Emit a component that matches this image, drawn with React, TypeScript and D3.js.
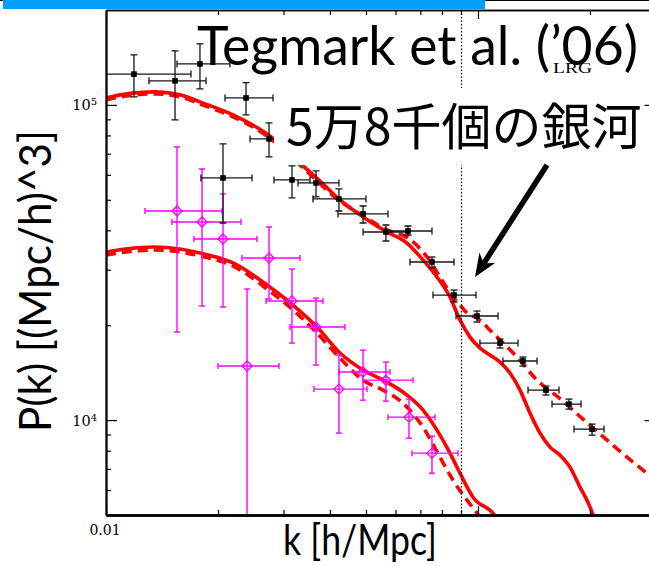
import React, { useEffect, useRef } from "react";
import * as d3 from "d3";

const W = 649;
const H = 566;

// SDSS LRG band powers: k [h/Mpc], P(k), horizontal and vertical error limits
const lrgK = [0.01189, 0.01533, 0.01789, 0.02379, 0.02743, 0.02063, 0.03162, 0.03669, 0.04229, 0.04909, 0.05656, 0.06483, 0.07521, 0.0862, 0.09938, 0.1146, 0.1321, 0.1523, 0.1756, 0.2026];
const lrgP = [125200, 119200, 134900, 105200, 77980, 58640, 57790, 56540, 50300, 45080, 39520, 39810, 31740, 24930, 21390, 17560, 15400, 12450, 11240, 9363];
const lrgKLo = [0.01, 0.01305, 0.01552, 0.02089, 0.02439, 0.018, 0.02829, 0.03282, 0.03601, 0.04204, 0.04909, 0.05656, 0.06565, 0.07568, 0.08728, 0.1012, 0.1167, 0.1363, 0.1581, 0.1812];
const lrgKHi = [0.01692, 0.01857, 0.02154, 0.02812, 0.031, 0.02469, 0.03535, 0.04229, 0.04999, 0.05727, 0.06483, 0.07521, 0.0862, 0.09877, 0.1132, 0.1281, 0.1441, 0.1651, 0.1892, 0.2182];
const lrgPLo = [106000, 89600, 112400, 92960, 68390, 42200, 50670, 51040, 46070, 42200, 37000, 38660, 30380, 23690, 20470, 16930, 14840, 12010, 10840, 8960];
const lrgPHi = [144100, 148400, 156200, 117700, 87670, 75180, 64020, 61720, 54120, 47780, 41590, 41290, 32920, 25870, 22180, 18080, 15850, 12820, 11660, 9712];

// Second galaxy sample (open diamonds)
const galK = [0.01552, 0.01812, 0.02063, 0.02743, 0.02394, 0.03162, 0.03669, 0.04229, 0.04909, 0.05656, 0.06524, 0.07521];
const galP = [46070, 42510, 37550, 32680, 14840, 23860, 19740, 12540, 14210, 13390, 10220, 7857];
const galKLo = [0.01273, 0.01504, 0.01724, 0.02321, 0.02, 0.02692, 0.03123, 0.03624, 0.04229, 0.04909, 0.05727, 0.06646];
const galKHi = [0.0205, 0.02307, 0.02546, 0.03323, 0.02918, 0.03831, 0.04389, 0.0503, 0.058, 0.06688, 0.07662, 0.08836];
const galPLo = [19030, 23010, 22840, 24210, 3000, 17560, 14950, 9093, 11570, 11490, 8767, 6786];
const galPHi = [73560, 62620, 52190, 41000, 26050, 30160, 24390, 16080, 16680, 15280, 11660, 8896];

// Model spectra (solid: nonlinear with BAO, dashed: alternative model)
const upperSolidK = [0.01, 0.0116, 0.01354, 0.0158, 0.01789, 0.02195, 0.02709, 0.03028, 0.03365, 0.03761, 0.04256, 0.04909, 0.05692, 0.06443, 0.07115, 0.07757, 0.08408, 0.08946, 0.09517, 0.1012, 0.1077, 0.1146, 0.1219, 0.1297, 0.138, 0.1468, 0.1562, 0.1661, 0.1767, 0.188, 0.1963, 0.2038, 0.2128];
const upperSolidP = [105200, 108800, 110000, 107600, 102200, 92960, 80910, 73040, 64500, 57370, 49930, 44100, 39520, 36460, 32210, 28440, 24580, 20770, 18340, 16930, 16080, 15280, 14100, 12450, 10520, 9093, 8209, 7743, 7093, 6127, 5572, 5000, 4159];
const upperDashK = [0.01, 0.0116, 0.01354, 0.0158, 0.01789, 0.02195, 0.02709, 0.03365, 0.04256, 0.04909, 0.05692, 0.06483, 0.07294, 0.07903, 0.08566, 0.08946, 0.09342, 0.09938, 0.1097, 0.1273, 0.1441, 0.1661, 0.1915, 0.2223, 0.2515, 0.2883, 0.3282];
const upperDashP = [103700, 107200, 108400, 106000, 100700, 91600, 79700, 63540, 49560, 44430, 40110, 37830, 32920, 28440, 24580, 23180, 21860, 21080, 18880, 15850, 13390, 11700, 10070, 8638, 7628, 6689, 5864];
const lowerSolidK = [0.01, 0.0116, 0.01338, 0.0158, 0.01789, 0.02195, 0.02709, 0.03182, 0.03691, 0.04256, 0.04909, 0.05692, 0.06443, 0.07115, 0.07757, 0.08408, 0.08946, 0.09696, 0.1097, 0.1182];
const lowerSolidP = [34150, 35030, 35420, 34910, 33910, 31510, 26830, 23180, 19740, 16320, 14410, 13200, 12010, 10760, 9296, 7857, 6786, 5696, 5070, 4477];
const lowerDashK = [0.01, 0.0116, 0.01338, 0.0158, 0.01789, 0.02195, 0.02709, 0.03182, 0.03691, 0.04256, 0.04909, 0.05553, 0.06285, 0.07115, 0.07903, 0.08566, 0.09342, 0.09938, 0.1044];
const lowerDashP = [33420, 34270, 34650, 34150, 33180, 30830, 26050, 22350, 18880, 15730, 13390, 12450, 11320, 9501, 7628, 6450, 5572, 5070, 4642];

// Axes
const kDomain = [0.01, 0.3];
const pDomain = [5000, 200000];
const kMajorTicks = [0.01, 0.1];
const kMinorTicks = [0.02, 0.03, 0.04, 0.05, 0.06, 0.07, 0.08, 0.09, 0.2, 0.3];
const pMajorTicks = [10000, 100000];
const pMinorTicks = [6000, 7000, 8000, 9000, 20000, 30000, 40000, 50000, 60000, 70000, 80000, 90000];
const kTickLabels = [{ v: 0.01, t: "0.01" }];
const pTickLabels = [{ v: 100000, base: "10", exp: "5" }, { v: 10000, base: "10", exp: "4" }];
const kScaleMark = 0.09;

const titleText = "Tegmark et al. (\u201906)";
const subText = "LRG";
const noteText = "5万8千個の銀河";
const xLabel = "k [h/Mpc]";
const yLabel = "P(k) [(Mpc/h)^3]";

const RED = "#ff0000";
const MAGENTA = "#ff00ff";

export default function App() {
  const ref = useRef<SVGSVGElement>(null);

  useEffect(() => {
    const svg = d3.select(ref.current);
    svg.selectAll("*").remove();

    const left = 106, bottom = 515, top = 10;
    const right = left + 372 * Math.log10(kDomain[1] / kDomain[0]);
    const x = d3.scaleLog().domain(kDomain).range([left, right]);
    const y = d3.scaleLog().domain(pDomain).range([bottom, top]);

    svg.append("rect").attr("width", W).attr("height", H).attr("fill", "#fff");

    // slide header strip
    svg.append("line").attr("x1", 0).attr("x2", W).attr("y1", 0.5).attr("y2", 0.5)
      .attr("stroke", "#000").attr("stroke-width", 1);
    svg.append("rect").attr("x", 3).attr("y", 0).attr("width", 482).attr("height", 9).attr("fill", "#00a0fa");

    // clipping for the plot region
    svg.append("defs").append("clipPath").attr("id", "plotClip")
      .append("rect").attr("x", left).attr("y", top).attr("width", right - left).attr("height", bottom - top);

    const plot = svg.append("g").attr("clip-path", "url(#plotClip)");

    // model curves
    const line = d3.line<[number, number]>()
      .x((d) => x(d[0]))
      .y((d) => y(d[1]))
      .curve(d3.curveMonotoneX);
    const curves = [
      { k: upperSolidK, p: upperSolidP, dash: null },
      { k: upperDashK, p: upperDashP, dash: "10,6" },
      { k: lowerSolidK, p: lowerSolidP, dash: null },
      { k: lowerDashK, p: lowerDashP, dash: "10,6" },
    ];
    curves.forEach((c) => {
      const pts = c.k.map((k, i) => [k, c.p[i]] as [number, number]);
      plot.append("path").attr("d", line(pts)).attr("fill", "none")
        .attr("stroke", RED).attr("stroke-width", 3.6)
        .attr("stroke-dasharray", c.dash);
    });

    // error bars
    const drawBars = (
      g: any, ks: number[], ps: number[], kLo: number[], kHi: number[], pLo: number[], pHi: number[],
      color: string, w: number, cap: number
    ) => {
      ks.forEach((k, i) => {
        const cx = x(k), cy = y(ps[i]);
        const x0 = x(kLo[i]), x1 = x(kHi[i]);
        const y0 = y(pLo[i]), y1 = y(pHi[i]);
        const s = (sel: any) => sel.attr("stroke", color).attr("stroke-width", w);
        s(g.append("line").attr("x1", x0).attr("x2", x1).attr("y1", cy).attr("y2", cy));
        s(g.append("line").attr("x1", x0).attr("x2", x0).attr("y1", cy - cap).attr("y2", cy + cap));
        s(g.append("line").attr("x1", x1).attr("x2", x1).attr("y1", cy - cap).attr("y2", cy + cap));
        s(g.append("line").attr("x1", cx).attr("x2", cx).attr("y1", y0).attr("y2", y1));
        s(g.append("line").attr("x1", cx - cap).attr("x2", cx + cap).attr("y1", y0).attr("y2", y0));
        s(g.append("line").attr("x1", cx - cap).attr("x2", cx + cap).attr("y1", y1).attr("y2", y1));
      });
    };

    const galG = plot.append("g");
    drawBars(galG, galK, galP, galKLo, galKHi, galPLo, galPHi, MAGENTA, 1.4, 3);
    galK.forEach((k, i) => {
      const cx = x(k), cy = y(galP[i]), r = 5;
      galG.append("path")
        .attr("d", `M${cx},${cy - r}L${cx + r},${cy}L${cx},${cy + r}L${cx - r},${cy}Z`)
        .attr("fill", "none").attr("stroke", MAGENTA).attr("stroke-width", 1.4);
    });

    const lrgG = plot.append("g");
    drawBars(lrgG, lrgK, lrgP, lrgKLo, lrgKHi, lrgPLo, lrgPHi, "#151515", 1.3, 3.5);
    lrgG.selectAll("rect.pt").data(lrgK).join("rect").attr("class", "pt")
      .attr("x", (d: number) => x(d) - 2.8)
      .attr("y", (_d: number, i: number) => y(lrgP[i]) - 2.8)
      .attr("width", 5.6).attr("height", 5.6).attr("fill", "#000");

    // scale marker
    svg.append("line").attr("x1", Math.round(x(kScaleMark)) + 0.5).attr("x2", Math.round(x(kScaleMark)) + 0.5)
      .attr("y1", top).attr("y2", bottom).attr("stroke", "#000").attr("stroke-width", 1.2)
      .attr("stroke-dasharray", "1.5,2");

    // axes and frame
    const styleAxis = (g: any, sw: number) => {
      g.selectAll("text").remove();
      g.select(".domain").attr("stroke", "#000").attr("stroke-width", sw);
      g.selectAll(".tick line").attr("stroke", "#000").attr("stroke-width", 1.2);
    };
    const noLabel = () => "";
    const gB = svg.append("g").attr("transform", `translate(0,${bottom})`);
    gB.call(d3.axisBottom(x).tickValues(kMinorTicks).tickSize(-5).tickSizeOuter(0).tickFormat(noLabel));
    styleAxis(gB, 2.4);
    const gB2 = svg.append("g").attr("transform", `translate(0,${bottom})`);
    gB2.call(d3.axisBottom(x).tickValues(kMajorTicks).tickSize(-9).tickSizeOuter(0).tickFormat(noLabel));
    styleAxis(gB2, 2.4);

    const gT = svg.append("g").attr("transform", `translate(0,${top})`);
    gT.call(d3.axisTop(x).tickValues(kMinorTicks).tickSize(-5).tickSizeOuter(0).tickFormat(noLabel));
    styleAxis(gT, 1.6);
    const gT2 = svg.append("g").attr("transform", `translate(0,${top})`);
    gT2.call(d3.axisTop(x).tickValues(kMajorTicks).tickSize(-9).tickSizeOuter(0).tickFormat(noLabel));
    styleAxis(gT2, 1.6);

    const gL = svg.append("g").attr("transform", `translate(${left},0)`);
    gL.call(d3.axisLeft(y).tickValues(pMinorTicks).tickSize(-5).tickSizeOuter(0).tickFormat(noLabel));
    styleAxis(gL, 1.8);
    const gL2 = svg.append("g").attr("transform", `translate(${left},0)`);
    gL2.call(d3.axisLeft(y).tickValues(pMajorTicks).tickSize(-11).tickSizeOuter(0).tickFormat(noLabel));
    styleAxis(gL2, 1.8);

    const gR = svg.append("g").attr("transform", `translate(${right},0)`);
    gR.call(d3.axisRight(y).tickValues(pMinorTicks).tickSize(-5).tickSizeOuter(0).tickFormat(noLabel));
    styleAxis(gR, 1.8);
    const gR2 = svg.append("g").attr("transform", `translate(${right},0)`);
    gR2.call(d3.axisRight(y).tickValues(pMajorTicks).tickSize(-11).tickSizeOuter(0).tickFormat(noLabel));
    styleAxis(gR2, 1.8);

    // tick labels
    const serif = "'DejaVu Serif', serif";
    kTickLabels.forEach((t) => {
      svg.append("text").attr("x", x(t.v) - 1).attr("y", 535).attr("text-anchor", "middle")
        .attr("font-family", serif).attr("font-size", 14).attr("fill", "#000").text(t.t);
    });
    pTickLabels.forEach((t) => {
      const tx = svg.append("text").attr("x", left - 9).attr("y", y(t.v) + 5.5)
        .attr("text-anchor", "end").attr("font-family", serif).attr("font-size", 14.5).attr("fill", "#000");
      tx.append("tspan").text(t.base);
      tx.append("tspan").attr("dy", -5).attr("font-size", 10).text(t.exp);
    });

    // annotation box and text
    svg.append("rect").attr("x", 274).attr("y", 88).attr("width", 366).attr("height", 77).attr("fill", "#fff");
    svg.append("text").attr("x", 286).attr("y", 145)
      .attr("font-family", "'Noto Sans CJK JP', sans-serif").attr("font-size", 50).attr("fill", "#000")
      .text(noteText);

    const sans = "Lato, 'Open Sans', sans-serif";
    svg.append("text").attr("x", 197).attr("y", 65)
      .attr("font-family", sans).attr("font-size", 55).attr("fill", "#000")
      .attr("textLength", 441).attr("lengthAdjust", "spacingAndGlyphs")
      .text(titleText);
    svg.append("text").attr("x", 553).attr("y", 73)
      .attr("font-family", "'Liberation Serif', serif").attr("font-size", 15).attr("fill", "#000")
      .attr("textLength", 39).attr("lengthAdjust", "spacingAndGlyphs")
      .text(subText);

    // arrow
    const ax0 = 547, ay0 = 165, ax1 = 475, ay1 = 277;
    const len = Math.hypot(ax1 - ax0, ay1 - ay0);
    const ux = (ax1 - ax0) / len, uy = (ay1 - ay0) / len;
    const nx = -uy, ny = ux;
    const hl = 23, hw = 9.5;
    svg.append("line").attr("x1", ax0).attr("y1", ay0)
      .attr("x2", ax1 - ux * 14).attr("y2", ay1 - uy * 14)
      .attr("stroke", "#000").attr("stroke-width", 5.5);
    svg.append("path")
      .attr("d", `M${ax1},${ay1}L${ax1 - ux * hl + nx * hw},${ay1 - uy * hl + ny * hw}L${ax1 - ux * 16},${ay1 - uy * 16}L${ax1 - ux * hl - nx * hw},${ay1 - uy * hl - ny * hw}Z`)
      .attr("fill", "#000");

    // axis titles
    svg.append("text").attr("x", 283).attr("y", 555)
      .attr("font-family", sans).attr("font-size", 42).attr("fill", "#000")
      .attr("textLength", 154).attr("lengthAdjust", "spacingAndGlyphs")
      .text(xLabel);
    svg.append("text").attr("transform", "translate(51,432) rotate(-90)")
      .attr("font-family", sans).attr("font-size", 44).attr("fill", "#000")
      .attr("textLength", 302).attr("lengthAdjust", "spacingAndGlyphs")
      .text(yLabel);
  }, []);

  return (
    <svg
      ref={ref}
      width={W}
      height={H}
      style={{ position: "absolute", left: 0, top: 0, display: "block" }}
    />
  );
}
